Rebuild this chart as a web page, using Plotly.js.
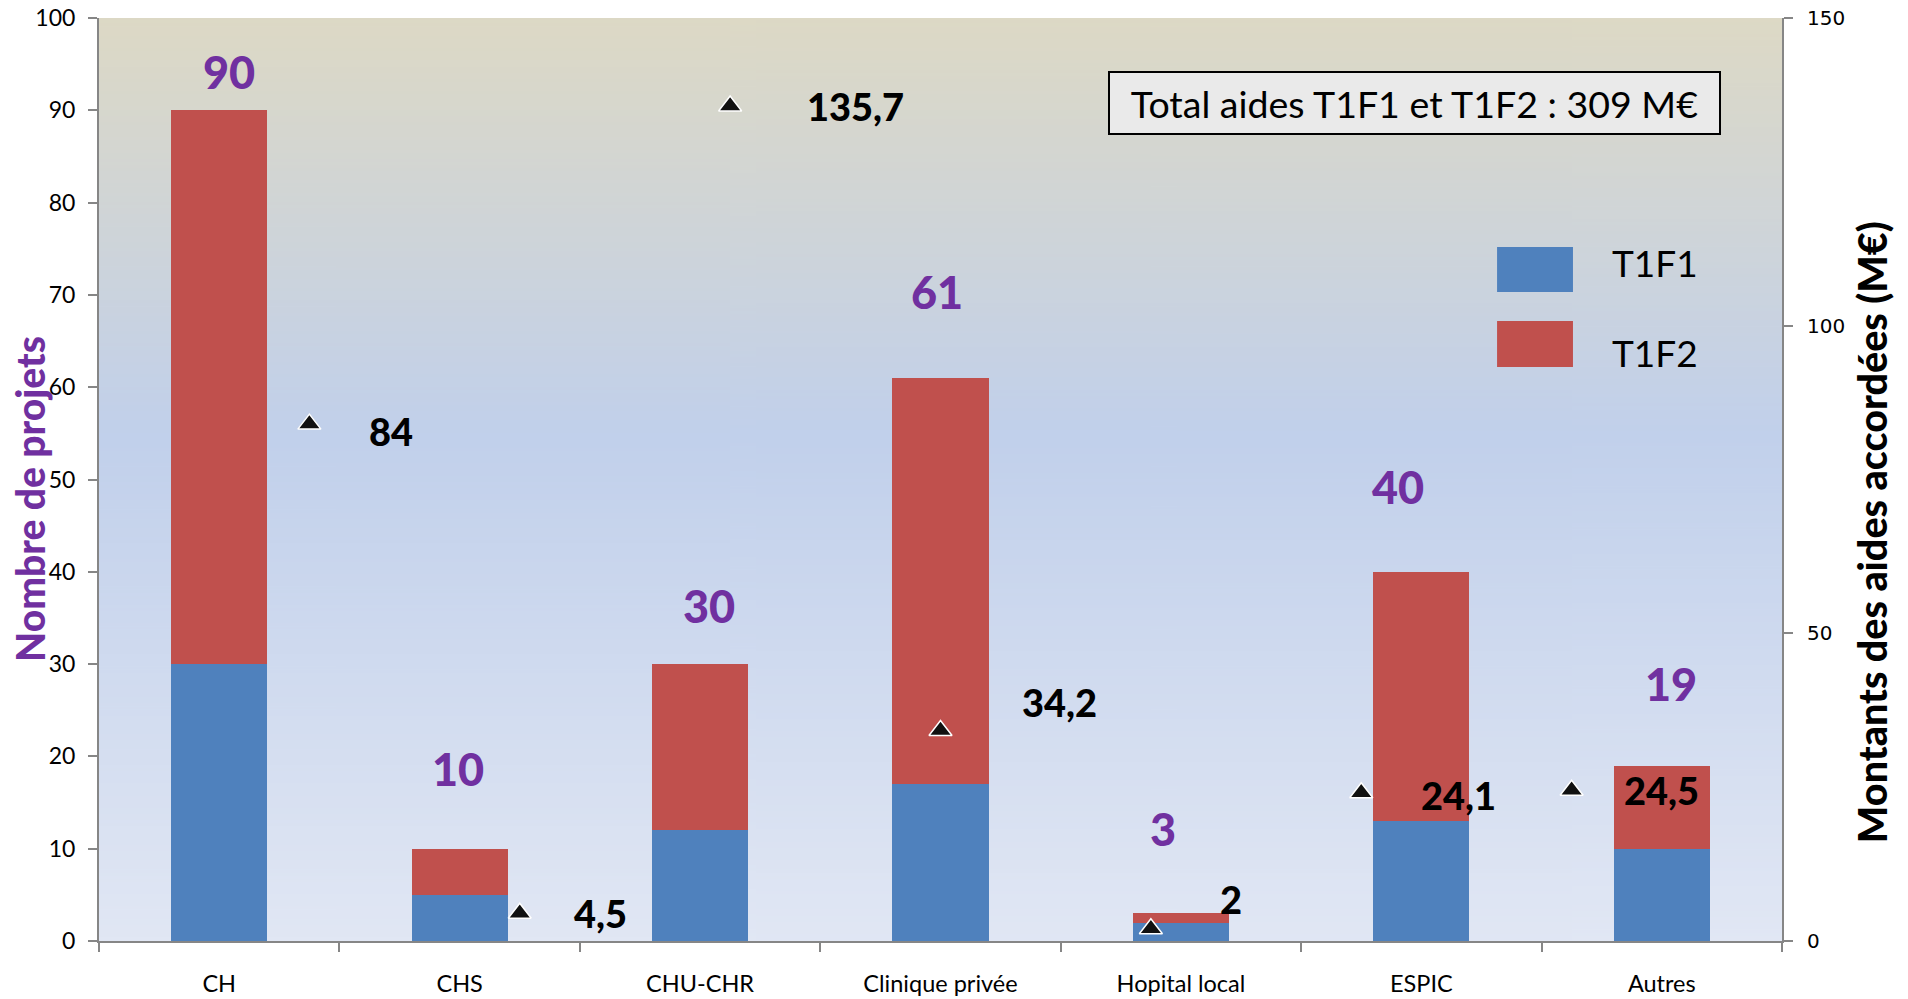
<!DOCTYPE html>
<html><head><meta charset="utf-8">
<script src="https://cdn.plot.ly/plotly-3.0.1.min.js"></script>
<style>html,body{margin:0;padding:0;background:#fff}#chart{width:1908px;height:999px}</style>
</head><body><div id="chart"></div>
<script>
// ---- data ----
const categories = ["CH", "CHS", "CHU-CHR", "Clinique privée", "Hopital local", "ESPIC", "Autres"];
const t1f1 = [30, 5, 12, 17, 2, 13, 10];
const t1f2 = [60, 5, 18, 44, 1, 27, 9];
const montants = [84, 4.5, 135.7, 34.2, 2, 24.1, 24.5];
const seriesNames = ["T1F1", "T1F2"];
const leftTitle = "Nombre de projets";
const rightTitle = "Montants des aides accordées (M€)";
const totalPrefix = "Total aides T1F1 et T1F2 : ";

// ---- label placement (pixel nudges) ----
const totalDx = [10, -2, 9, -4, -18, -23, 9];
const totalDy = [38, 80, 58, 86, 84, 85, 82];
const valDx = [58, 52, 75, 79, 67, 58, 50];
const valDy = [-7, 0, 0, 29, 30, -2, 0];

const seriesColors = ["#4F81BD", "#C0504D"];
const purple = "#7030A0";
const axisGrey = "#868686";
const calibri = "Lato, 'Open Sans', sans-serif";

const frNum = v => String(Math.round(v * 10) / 10).replace(".", ",");
const totals = t1f1.map((v, i) => v + t1f2[i]);
const totalMontant = montants.reduce((a, b) => a + b, 0);

// gradient background
const cv = document.createElement("canvas");
cv.width = 4; cv.height = 600;
const ctx = cv.getContext("2d");
const g = ctx.createLinearGradient(0, 0, 0, 600);
g.addColorStop(0, "#DDD9C5");
g.addColorStop(0.45, "#C1D0EB");
g.addColorStop(1, "#E1E7F4");
ctx.fillStyle = g; ctx.fillRect(0, 0, 4, 600);
const bgURL = cv.toDataURL("image/png");

const traces = [
  { type: "bar", name: seriesNames[0], x: categories, y: t1f1, marker: { color: seriesColors[0] }, showlegend: false, hoverinfo: "y+name" },
  { type: "bar", name: seriesNames[1], x: categories, y: t1f2, marker: { color: seriesColors[1] }, showlegend: false, hoverinfo: "y+name" },
  { type: "scatter", mode: "markers", name: "Montants", x: categories, y: montants, xaxis: "x2", yaxis: "y2",
    marker: { symbol: "triangle-up", size: 20, color: "#111", line: { color: "#fff", width: 1.5 } }, showlegend: false }
];

const annotations = [];
categories.forEach((c, i) => {
  annotations.push({ x: c, y: totals[i], xref: "x", yref: "y", text: String(totals[i]), showarrow: false,
    xanchor: "center", yanchor: "middle", xshift: totalDx[i], yshift: totalDy[i],
    font: { family: calibri, size: 45, color: purple, weight: 900 } });
  annotations.push({ x: c, y: montants[i], xref: "x2", yref: "y2", text: frNum(montants[i]), showarrow: false,
    xanchor: "left", yanchor: "middle", xshift: valDx[i], yshift: valDy[i],
    font: { family: calibri, size: 38, color: "#000", weight: 900 } });
});
annotations.push({ xref: "paper", yref: "paper", x: -0.041, y: 0.479, text: leftTitle, textangle: -90, showarrow: false,
  xanchor: "center", yanchor: "middle", font: { family: calibri, size: 39, color: purple, weight: 900 } });
annotations.push({ xref: "paper", yref: "paper", x: 1.0529, y: 0.443, text: rightTitle, textangle: -90, showarrow: false,
  xanchor: "center", yanchor: "middle", font: { family: calibri, size: 39.5, color: "#000", weight: 900 } });
annotations.push({ xref: "paper", yref: "paper", x: 0.7816, y: 0.9079, text: totalPrefix + frNum(totalMontant) + " M€",
  showarrow: false, xanchor: "center", yanchor: "middle", width: 603, height: 54, borderpad: 3,
  bgcolor: "#EAEAEA", bordercolor: "#000", borderwidth: 2, font: { family: calibri, size: 37.5, color: "#000" } });

// custom legend
const shapes = [];
const legY = [[0.7031, 0.7519, 0.7346], [0.6219, 0.6717, 0.6371]];
seriesNames.forEach((n, i) => {
  shapes.push({ type: "rect", xref: "paper", yref: "paper", x0: 0.8307, x1: 0.8758, y0: legY[i][0], y1: legY[i][1],
    fillcolor: seriesColors[i], line: { width: 0 } });
  annotations.push({ xref: "paper", yref: "paper", x: 0.8978, y: legY[i][2], text: n, showarrow: false,
    xanchor: "left", yanchor: "middle", font: { family: calibri, size: 37, color: "#000" } });
});

const layout = {
  width: 1908, height: 999,
  margin: { l: 99, r: 126, t: 18, b: 58 },
  paper_bgcolor: "#fff", plot_bgcolor: "rgba(0,0,0,0)",
  barmode: "stack", bargap: 0.6,
  showlegend: false,
  images: [{ source: bgURL, xref: "paper", yref: "paper", x: 0, y: 1, sizex: 1, sizey: 1,
    xanchor: "left", yanchor: "top", sizing: "stretch", layer: "below" }],
  xaxis: { type: "category", range: [-0.5, 6.5], showline: true, linecolor: axisGrey, linewidth: 2,
    ticks: "outside", tickson: "boundaries", ticklen: 9, tickwidth: 2, tickcolor: axisGrey,
    showgrid: false, zeroline: false, tickfont: { family: calibri, size: 23.5, color: "#000" }, ticklabelstandoff: 21 },
  xaxis2: { type: "category", overlaying: "x", range: [-1, 7], visible: false, categoryarray: categories },
  yaxis: { range: [0, 100], dtick: 10, showline: true, linecolor: axisGrey, linewidth: 2, ticks: "outside",
    ticklen: 9, tickwidth: 2, tickcolor: axisGrey, showgrid: false, zeroline: false,
    tickfont: { family: calibri, size: 23, color: "#000" }, ticklabelstandoff: 8 },
  yaxis2: { range: [0, 150], dtick: 50, overlaying: "y", side: "right", showline: true, linecolor: axisGrey,
    linewidth: 2, ticks: "outside", ticklen: 9, tickwidth: 2, tickcolor: axisGrey, showgrid: false, zeroline: false,
    tickfont: { family: "'DejaVu Sans', sans-serif", size: 20, color: "#000" }, ticklabelstandoff: 10 },
  annotations: annotations,
  shapes: shapes
};

Plotly.newPlot("chart", traces, layout, { displayModeBar: false, staticPlot: false });
</script></body></html>
